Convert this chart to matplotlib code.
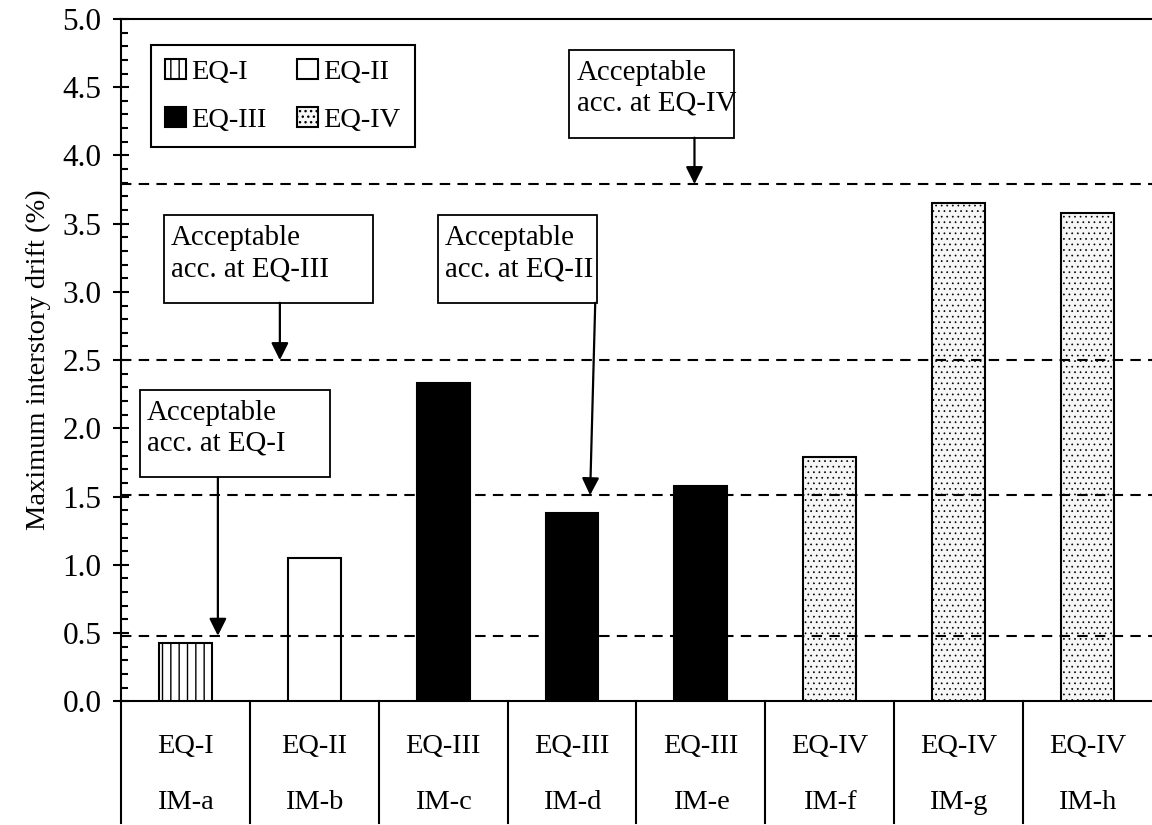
import matplotlib
matplotlib.use("Agg")
import matplotlib.pyplot as plt
import matplotlib.transforms as mtransforms
from matplotlib.patches import Patch, Rectangle
from matplotlib.ticker import MultipleLocator

plt.rcParams['font.family'] = ['Liberation Serif', 'DejaVu Serif']
plt.rcParams['hatch.linewidth'] = 1.0

# data
models = ['IM-a', 'IM-b', 'IM-c', 'IM-d', 'IM-e', 'IM-f', 'IM-g', 'IM-h']
eq_level = ['EQ-I', 'EQ-II', 'EQ-III', 'EQ-III', 'EQ-III', 'EQ-IV', 'EQ-IV', 'EQ-IV']
drift = [0.43, 1.05, 2.33, 1.38, 1.58, 1.79, 3.65, 3.58]

levels = ['EQ-I', 'EQ-II', 'EQ-III', 'EQ-IV']
limits = [0.48, 1.51, 2.50, 3.79]

# look of each level
styles = {
    'EQ-I':   dict(facecolor='white', hatch='||'),
    'EQ-II':  dict(facecolor='white', hatch=None),
    'EQ-III': dict(facecolor='black', hatch=None),
    'EQ-IV':  dict(facecolor='#f6f6f6', hatch='...'),
}
hatch_lw = {'EQ-I': 1.0, 'EQ-II': 1.0, 'EQ-III': 1.0, 'EQ-IV': 0.5}

fs = 20.5

fig = plt.figure(figsize=(11.52, 8.25), dpi=100)
ax = fig.add_axes([0.105, 0.150, 0.895, 0.827])

x = list(range(len(models)))
for i in x:
    st = styles[eq_level[i]]
    with plt.rc_context({'hatch.linewidth': hatch_lw[eq_level[i]]}):
        ax.bar(i, drift[i], width=0.41, facecolor=st['facecolor'], hatch=st['hatch'],
               edgecolor='black', linewidth=1.5, zorder=3)

# acceptable limit lines
for lim in limits:
    ax.axhline(lim, color='black', lw=1.5, linestyle=(0, (5, 3.5)), zorder=4)

ax.set_xlim(-0.5, 7.5)
ax.set_ylim(0, 5.0)
ax.yaxis.set_major_locator(MultipleLocator(0.5))
ax.yaxis.set_minor_locator(MultipleLocator(0.1))
ax.set_yticklabels([f'{v:.1f}' for v in ax.get_yticks()], fontsize=22.5)
ax.tick_params(axis='y', which='major', direction='inout', length=12, width=1.5, pad=8)
ax.tick_params(axis='y', which='minor', direction='in', length=5, width=1.5)
ax.set_xticks([])
ax.set_ylabel('Maximum interstory drift (%)', fontsize=fs, labelpad=8)

for s in ['left', 'top', 'bottom']:
    ax.spines[s].set_linewidth(1.5)
ax.spines['right'].set_visible(False)

# table below the axis
trans = mtransforms.blended_transform_factory(ax.transData, ax.transAxes)
for b in [i - 0.5 for i in x]:
    ax.plot([b, b], [0, -0.179], color='black', lw=1.5, transform=trans, clip_on=False)
for i in x:
    ax.text(i, -0.066, eq_level[i], ha='center', va='center', fontsize=fs, transform=trans)
    ax.text(i, -0.148, models[i], ha='center', va='center', fontsize=fs, transform=trans)

# annotation boxes: (x0, x1, ytop, ybot, arrow start x, arrow end x, limit index)
boxes = [
    (-0.353, 1.120, 2.28, 1.64, 0.252, 0.252, 0),
    (-0.167, 1.453, 3.56, 2.92, 0.733, 0.733, 2),
    (1.957, 3.190, 3.56, 2.92, 3.180, 3.140, 1),
    (2.980, 4.260, 4.77, 4.13, 3.950, 3.950, 3),
]
for x0, x1, yt, yb, ax0, ax1, k in boxes:
    ax.add_patch(Rectangle((x0, yb), x1 - x0, yt - yb, facecolor='white',
                           edgecolor='black', lw=1.3, zorder=6))
    ax.text(x0 + 0.055, yt - 0.07, 'Acceptable\nacc. at ' + levels[k], ha='left', va='top',
            fontsize=20.8, linespacing=1.25, zorder=7)
    ax.annotate('', xy=(ax1, limits[k]), xytext=(ax0, yb),
                arrowprops=dict(arrowstyle='-|>', color='black', lw=1.6,
                                mutation_scale=26, shrinkA=0, shrinkB=0), zorder=7)

handles = [Patch(edgecolor='black', linewidth=1.5, **styles[l], label=l)
           for l in ['EQ-I', 'EQ-III', 'EQ-II', 'EQ-IV']]
leg = ax.legend(handles=handles, ncol=2, loc='upper left', bbox_to_anchor=(0.029, 0.962),
                borderaxespad=0, fontsize=fs, frameon=True, fancybox=False, framealpha=1,
                handlelength=0.72, handleheight=0.72, handletextpad=0.18,
                columnspacing=1.1, labelspacing=0.75, borderpad=0.5)
leg.get_frame().set_edgecolor('black')
leg.get_frame().set_linewidth(1.5)

fig.savefig('out.png', dpi=100)
